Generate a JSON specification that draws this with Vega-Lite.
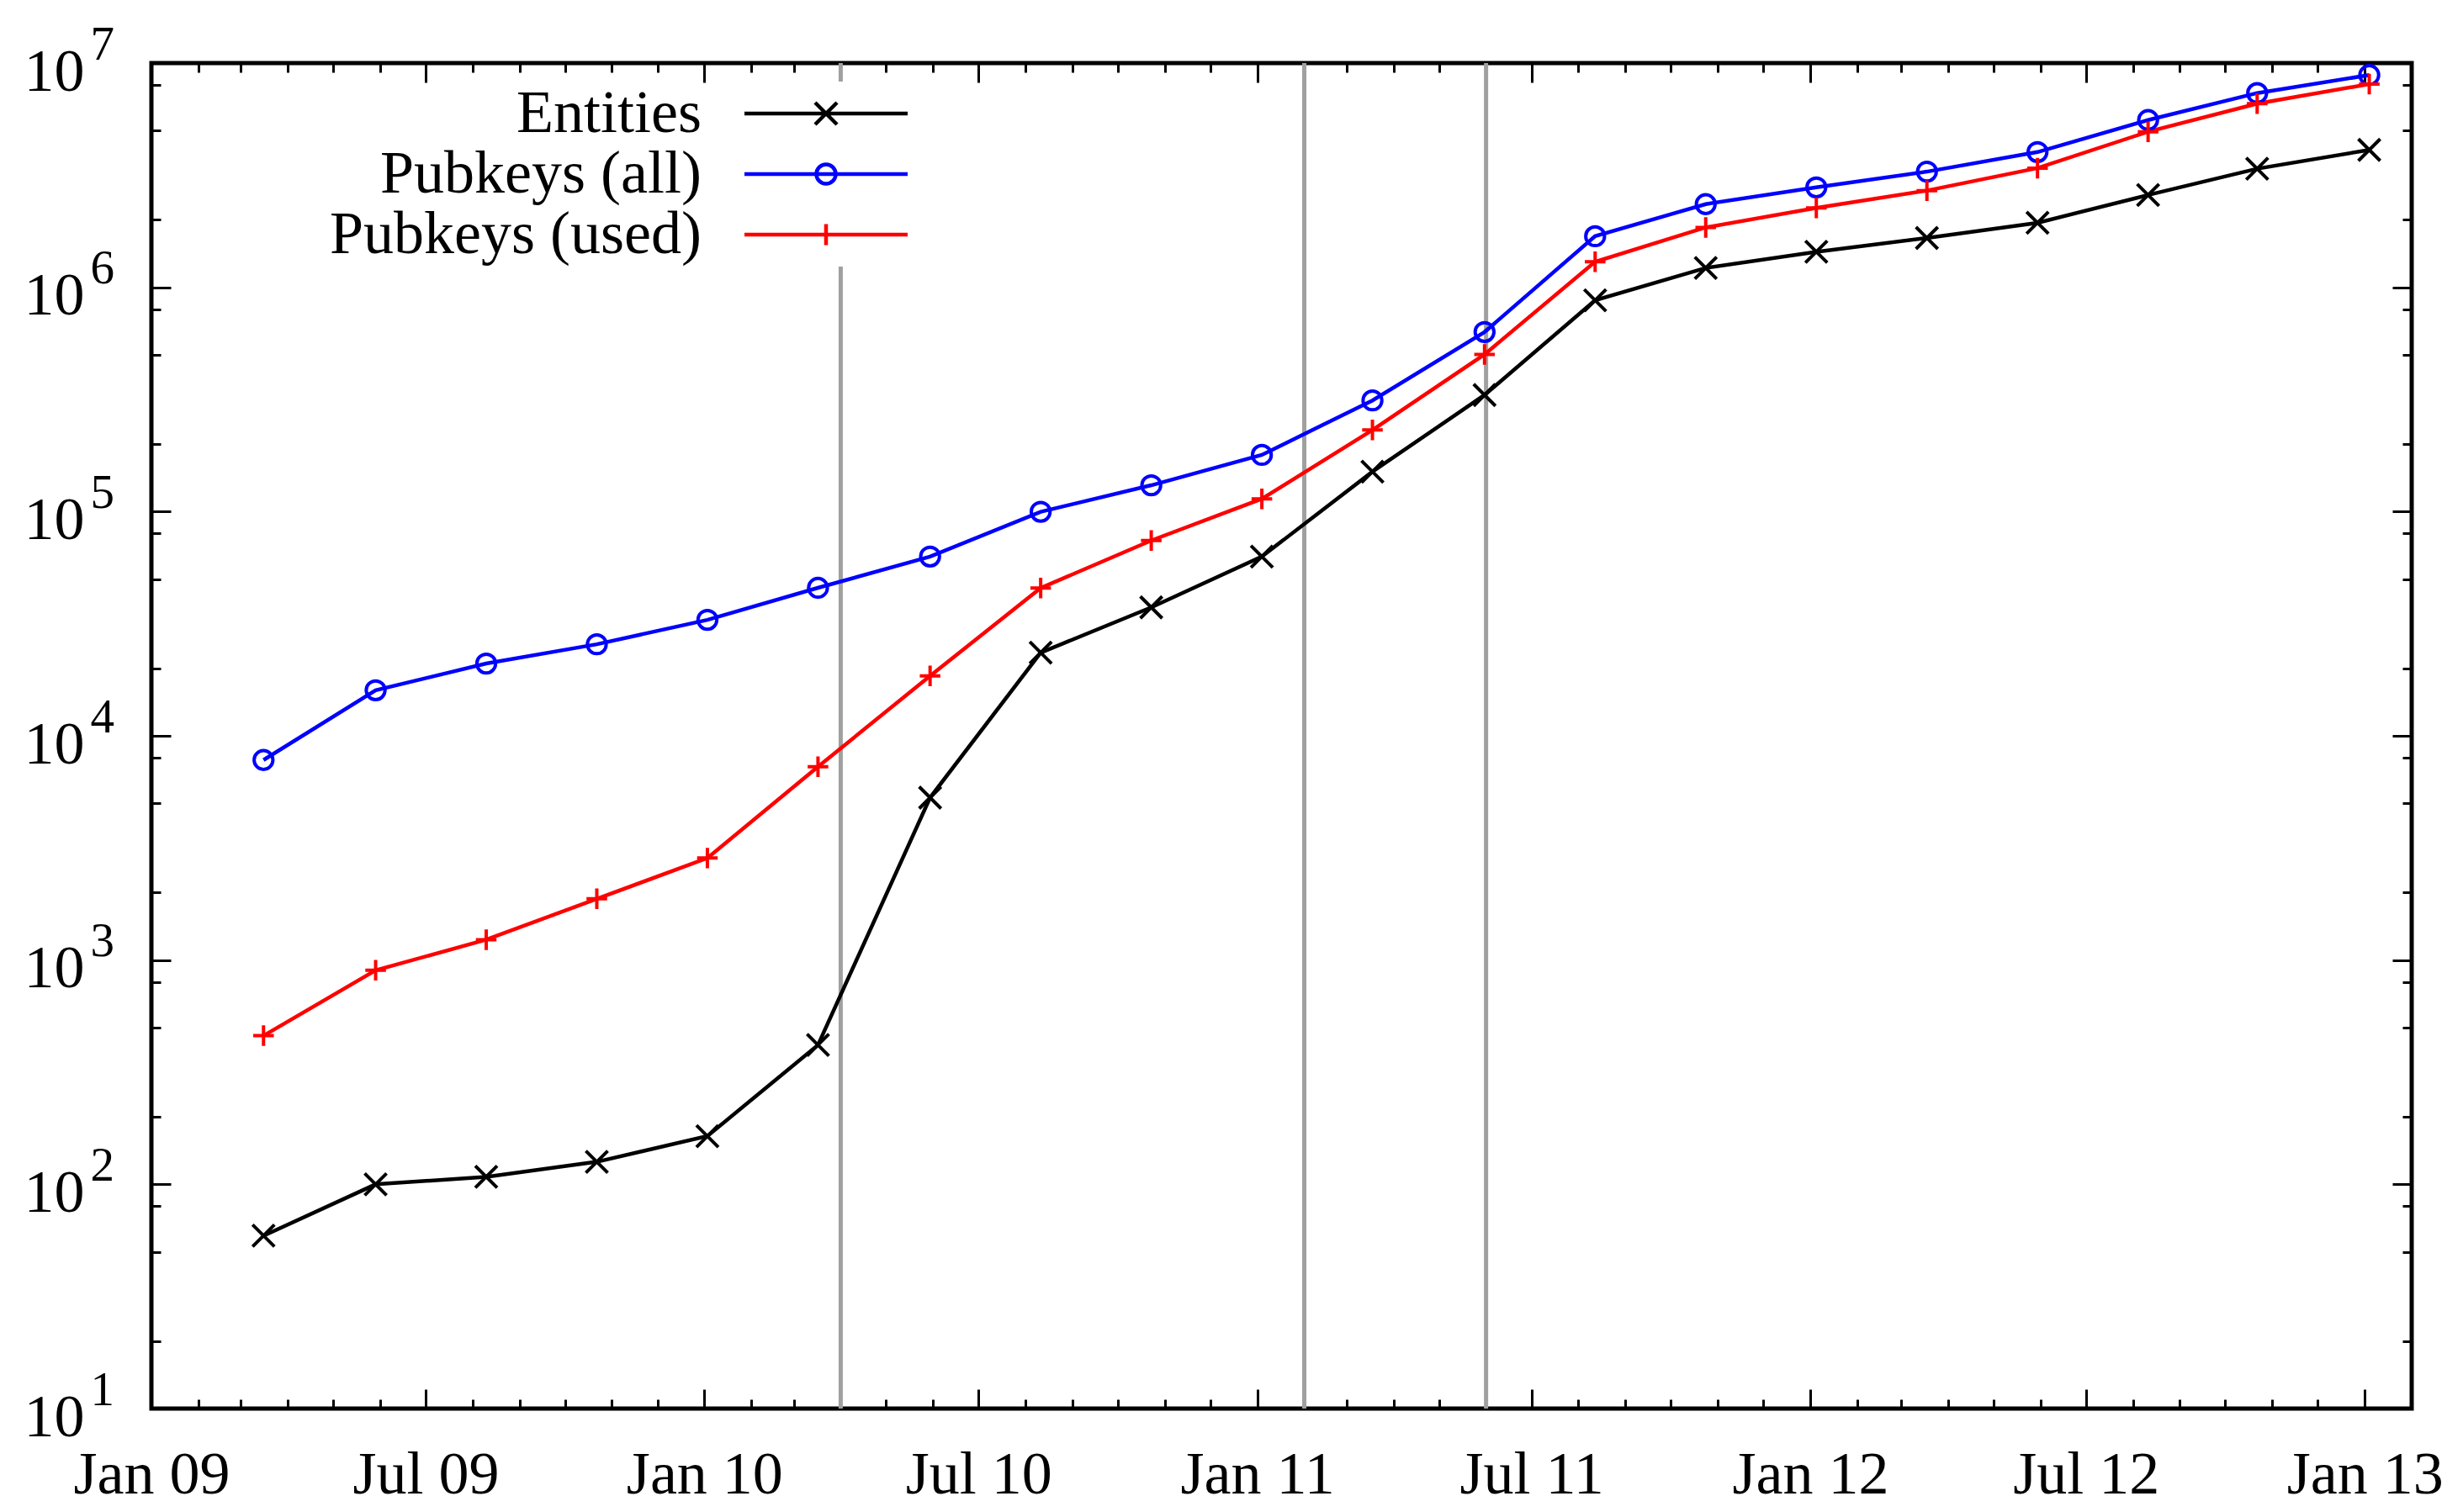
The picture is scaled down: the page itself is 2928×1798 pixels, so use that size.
{
  "$schema": "https://vega.github.io/schema/vega-lite/v6.json",
  "description": "Growth of entities and public keys, log scale",
  "width": 2687,
  "height": 1600,
  "autosize": {"type": "none"},
  "padding": {"left": 180, "top": 75, "right": 61, "bottom": 123},
  "background": "white",
  "datasets": {
    "events": [
      {"date": "2010-04-01"},
      {"date": "2011-02-01"},
      {"date": "2011-06-01"}
    ],
    "counts": [
      {"date": "2009-03-16", "series": "Entities", "value": 59},
      {"date": "2009-05-29", "series": "Entities", "value": 100},
      {"date": "2009-08-10", "series": "Entities", "value": 108},
      {"date": "2009-10-22", "series": "Entities", "value": 126},
      {"date": "2010-01-03", "series": "Entities", "value": 164},
      {"date": "2010-03-17", "series": "Entities", "value": 418},
      {"date": "2010-05-30", "series": "Entities", "value": 5300},
      {"date": "2010-08-11", "series": "Entities", "value": 23500},
      {"date": "2010-10-23", "series": "Entities", "value": 37400},
      {"date": "2011-01-04", "series": "Entities", "value": 63000},
      {"date": "2011-03-18", "series": "Entities", "value": 150600},
      {"date": "2011-05-31", "series": "Entities", "value": 331000},
      {"date": "2011-08-12", "series": "Entities", "value": 875000},
      {"date": "2011-10-24", "series": "Entities", "value": 1220000},
      {"date": "2012-01-05", "series": "Entities", "value": 1440000},
      {"date": "2012-03-18", "series": "Entities", "value": 1660000},
      {"date": "2012-05-30", "series": "Entities", "value": 1940000},
      {"date": "2012-08-11", "series": "Entities", "value": 2580000},
      {"date": "2012-10-22", "series": "Entities", "value": 3380000},
      {"date": "2013-01-04", "series": "Entities", "value": 4100000},
      {"date": "2009-03-16", "series": "Pubkeys (all)", "value": 7800},
      {"date": "2009-05-29", "series": "Pubkeys (all)", "value": 15960},
      {"date": "2009-08-10", "series": "Pubkeys (all)", "value": 21000},
      {"date": "2009-10-22", "series": "Pubkeys (all)", "value": 25600},
      {"date": "2010-01-03", "series": "Pubkeys (all)", "value": 32900},
      {"date": "2010-03-17", "series": "Pubkeys (all)", "value": 45700},
      {"date": "2010-05-30", "series": "Pubkeys (all)", "value": 63000},
      {"date": "2010-08-11", "series": "Pubkeys (all)", "value": 99800},
      {"date": "2010-10-23", "series": "Pubkeys (all)", "value": 131000},
      {"date": "2011-01-04", "series": "Pubkeys (all)", "value": 179000},
      {"date": "2011-03-18", "series": "Pubkeys (all)", "value": 313000},
      {"date": "2011-05-31", "series": "Pubkeys (all)", "value": 632000},
      {"date": "2011-08-12", "series": "Pubkeys (all)", "value": 1690000},
      {"date": "2011-10-24", "series": "Pubkeys (all)", "value": 2350000},
      {"date": "2012-01-05", "series": "Pubkeys (all)", "value": 2790000},
      {"date": "2012-03-18", "series": "Pubkeys (all)", "value": 3280000},
      {"date": "2012-05-30", "series": "Pubkeys (all)", "value": 4010000},
      {"date": "2012-08-11", "series": "Pubkeys (all)", "value": 5570000},
      {"date": "2012-10-22", "series": "Pubkeys (all)", "value": 7350000},
      {"date": "2013-01-04", "series": "Pubkeys (all)", "value": 8840000},
      {"date": "2009-03-16", "series": "Pubkeys (used)", "value": 460},
      {"date": "2009-05-29", "series": "Pubkeys (used)", "value": 900},
      {"date": "2009-08-10", "series": "Pubkeys (used)", "value": 1233},
      {"date": "2009-10-22", "series": "Pubkeys (used)", "value": 1875},
      {"date": "2010-01-03", "series": "Pubkeys (used)", "value": 2850},
      {"date": "2010-03-17", "series": "Pubkeys (used)", "value": 7280},
      {"date": "2010-05-30", "series": "Pubkeys (used)", "value": 18500},
      {"date": "2010-08-11", "series": "Pubkeys (used)", "value": 45600},
      {"date": "2010-10-23", "series": "Pubkeys (used)", "value": 74300},
      {"date": "2011-01-04", "series": "Pubkeys (used)", "value": 114000},
      {"date": "2011-03-18", "series": "Pubkeys (used)", "value": 231000},
      {"date": "2011-05-31", "series": "Pubkeys (used)", "value": 502000},
      {"date": "2011-08-12", "series": "Pubkeys (used)", "value": 1300000},
      {"date": "2011-10-24", "series": "Pubkeys (used)", "value": 1850000},
      {"date": "2012-01-05", "series": "Pubkeys (used)", "value": 2260000},
      {"date": "2012-03-18", "series": "Pubkeys (used)", "value": 2700000},
      {"date": "2012-05-30", "series": "Pubkeys (used)", "value": 3400000},
      {"date": "2012-08-11", "series": "Pubkeys (used)", "value": 4940000},
      {"date": "2012-10-22", "series": "Pubkeys (used)", "value": 6590000},
      {"date": "2013-01-04", "series": "Pubkeys (used)", "value": 8060000}
    ]
  },
  "layer": [
    {
      "data": {"name": "events"},
      "mark": {"type": "rule", "color": "#a0a0a0", "strokeWidth": 5},
      "encoding": {
        "x": {
          "field": "date",
          "type": "temporal",
          "scale": {"domain": [{"year": 2009, "month": 1, "date": 1}, {"year": 2013, "month": 2, "date": 1}], "nice": false},
          "axis": {
            "orient": "bottom",
            "title": null,
            "domain": false,
            "grid": false,
            "tickCount": {"interval": "month", "step": 1},
            "tickSize": {"condition": {"test": "month(datum.value) % 6 === 0", "value": -23}, "value": -11},
            "tickWidth": 3,
            "tickColor": "black",
            "labelExpr": "month(datum.value) % 6 === 0 ? timeFormat(datum.value, '%b %y') : ''",
            "labelFont": "Liberation Serif",
            "labelFontSize": 72,
            "labelColor": "black",
            "labelLimit": 0,
            "labelPadding": 123,
            "labelBaseline": "alphabetic",
            "labelOverlap": false,
            "labelFlush": false,
            "labelBound": false
          }
        },
        "y": {
          "datum": 10,
          "type": "quantitative",
          "scale": {"type": "log", "domain": [10, 10000000], "nice": false},
          "axis": {
            "orient": "right",
            "title": null,
            "domain": false,
            "grid": false,
            "labels": false,
            "values": [10, 20, 50, 80, 100, 200, 500, 800, 1000, 2000, 5000, 8000, 10000, 20000, 50000, 80000, 100000, 200000, 500000, 800000, 1000000, 2000000, 5000000, 8000000, 10000000],
            "tickSize": {"condition": {"test": "abs(log(datum.value) / LN10 - round(log(datum.value) / LN10)) < 0.001", "value": -23}, "value": -11},
            "tickWidth": 3,
            "tickColor": "black"
          }
        },
        "y2": {"datum": 10000000}
      }
    },
    {
      "data": {"name": "counts"},
      "mark": {"type": "line", "strokeWidth": 4.5},
      "encoding": {
        "x": {
          "field": "date",
          "type": "temporal",
          "scale": {"domain": [{"year": 2009, "month": 1, "date": 1}, {"year": 2013, "month": 2, "date": 1}], "nice": false},
          "axis": {
            "orient": "top",
            "title": null,
            "domain": false,
            "grid": false,
            "labels": false,
            "tickCount": {"interval": "month", "step": 1},
            "tickSize": {"condition": {"test": "month(datum.value) % 6 === 0", "value": -23}, "value": -11},
            "tickWidth": 3,
            "tickColor": "black"
          }
        },
        "y": {
          "field": "value",
          "type": "quantitative",
          "scale": {"type": "log", "domain": [10, 10000000], "nice": false},
          "axis": {
            "orient": "left",
            "title": null,
            "domain": false,
            "grid": false,
            "values": [10, 20, 50, 80, 100, 200, 500, 800, 1000, 2000, 5000, 8000, 10000, 20000, 50000, 80000, 100000, 200000, 500000, 800000, 1000000, 2000000, 5000000, 8000000, 10000000],
            "tickSize": {"condition": {"test": "abs(log(datum.value) / LN10 - round(log(datum.value) / LN10)) < 0.001", "value": -23}, "value": -11},
            "tickWidth": 3,
            "tickColor": "black",
            "labelExpr": "abs(log(datum.value) / LN10 - round(log(datum.value) / LN10)) < 0.001 ? '10' : ''",
            "labelFont": "Liberation Serif",
            "labelFontSize": 72,
            "labelColor": "black",
            "labelAlign": "right",
            "labelBaseline": "alphabetic",
            "labelPadding": 103,
            "labelOffset": 32,
            "labelOverlap": false,
            "labelFlush": false,
            "labelBound": false
          }
        },
        "color": {
          "field": "series",
          "type": "nominal",
          "scale": {"domain": ["Entities", "Pubkeys (all)", "Pubkeys (used)"], "range": ["#000000", "#0000ff", "#ff0000"]},
          "legend": {
            "title": null,
            "orient": "none",
            "legendX": 764,
            "legendY": 22,
            "padding": 2,
            "rowPadding": 0,
            "fillColor": "white",
            "labelFont": "Liberation Serif",
            "labelFontSize": 72,
            "labelColor": "black",
            "labelLimit": 0,
            "symbolSize": 100,
            "symbolStrokeWidth": 4.5,
            "encode": {
              "symbols": {
                "update": {
                  "shape": {"signal": "datum.value === 'Entities' ? 'M-19.4,0H19.4M-2.6,-2.6L2.6,2.6M-2.6,2.6L2.6,-2.6' : datum.value === 'Pubkeys (all)' ? 'M-19.4,0H19.4M0,-2.3A2.3,2.3,0,1,1,0,2.3A2.3,2.3,0,1,1,0,-2.3' : 'M-19.4,0H19.4M0,-2.5V2.5'"},
                  "size": {"value": 100},
                  "strokeWidth": {"value": 4.5},
                  "fill": {"value": "transparent"},
                  "opacity": {"value": 1}
                }
              },
              "labels": {
                "update": {
                  "x": {"value": -112},
                  "align": {"value": "right"}
                }
              }
            }
          }
        }
      }
    },
    {
      "data": {"name": "counts"},
      "transform": [{"filter": "datum.series === 'Entities'"}],
      "mark": {"type": "point", "filled": false, "strokeWidth": 4, "size": 676, "opacity": 1, "shape": "M-1,-1L1,1M-1,1L1,-1", "color": "#000000"},
      "encoding": {
        "x": {
          "field": "date",
          "type": "temporal",
          "scale": {"domain": [{"year": 2009, "month": 1, "date": 1}, {"year": 2013, "month": 2, "date": 1}], "nice": false},
          "axis": null
        },
        "y": {
          "field": "value",
          "type": "quantitative",
          "scale": {"type": "log", "domain": [10, 10000000], "nice": false},
          "axis": {
            "orient": "left",
            "title": null,
            "domain": false,
            "grid": false,
            "values": [10, 100, 1000, 10000, 100000, 1000000, 10000000],
            "ticks": true,
            "tickSize": 0,
            "tickWidth": 0,
            "tickColor": "transparent",
            "labelExpr": "'' + round(log(datum.value) / LN10)",
            "labelFont": "Liberation Serif",
            "labelFontSize": 57,
            "labelColor": "black",
            "labelAlign": "left",
            "labelBaseline": "alphabetic",
            "labelPadding": 73,
            "labelOffset": -5,
            "labelOverlap": false,
            "labelFlush": false,
            "labelBound": false
          }
        }
      }
    },
    {
      "data": {"name": "counts"},
      "transform": [{"filter": "datum.series === 'Pubkeys (all)'"}],
      "mark": {"type": "point", "filled": false, "strokeWidth": 4, "size": 500, "opacity": 1, "shape": "circle", "color": "#0000ff"},
      "encoding": {
        "x": {
          "field": "date",
          "type": "temporal",
          "scale": {"domain": [{"year": 2009, "month": 1, "date": 1}, {"year": 2013, "month": 2, "date": 1}], "nice": false},
          "axis": null
        },
        "y": {
          "field": "value",
          "type": "quantitative",
          "scale": {"type": "log", "domain": [10, 10000000], "nice": false},
          "axis": null
        }
      }
    },
    {
      "data": {"name": "counts"},
      "transform": [{"filter": "datum.series === 'Pubkeys (used)'"}],
      "mark": {"type": "point", "filled": false, "strokeWidth": 4, "size": 600, "opacity": 1, "shape": "M-1,0H1M0,-1V1", "color": "#ff0000"},
      "encoding": {
        "x": {
          "field": "date",
          "type": "temporal",
          "scale": {"domain": [{"year": 2009, "month": 1, "date": 1}, {"year": 2013, "month": 2, "date": 1}], "nice": false},
          "axis": null
        },
        "y": {
          "field": "value",
          "type": "quantitative",
          "scale": {"type": "log", "domain": [10, 10000000], "nice": false},
          "axis": null
        }
      }
    }
  ],
  "resolve": {"axis": {"x": "independent", "y": "independent"}},
  "config": {
    "font": "Liberation Serif",
    "view": {"stroke": "black", "strokeWidth": 5}
  }
}
